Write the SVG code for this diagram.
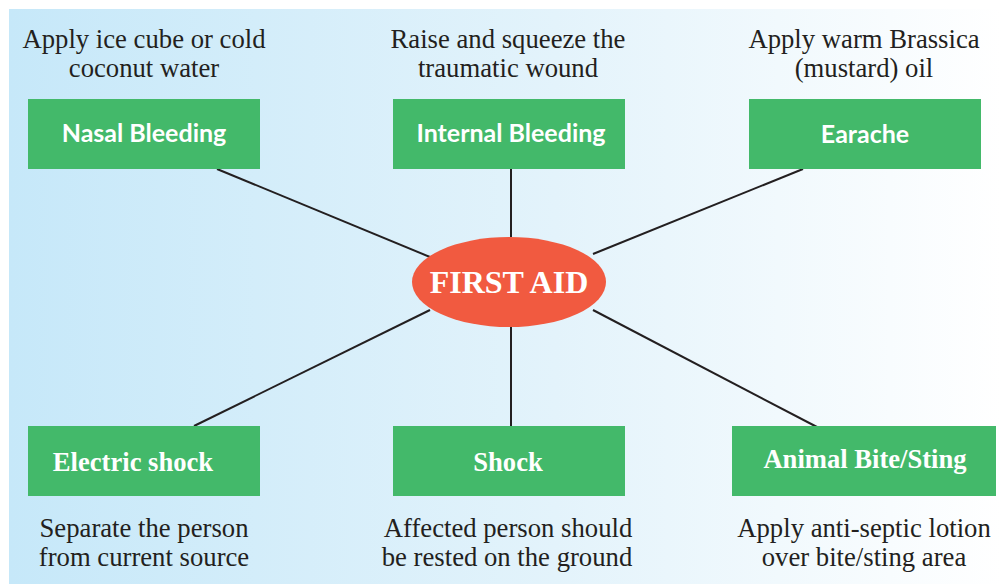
<svg xmlns="http://www.w3.org/2000/svg" width="1002" height="584" viewBox="0 0 1002 584">
  <defs>
    <linearGradient id="bg" x1="0" y1="0" x2="1" y2="0">
      <stop offset="0" stop-color="#c6e8f9"/>
      <stop offset="0.55" stop-color="#e3f3fb"/>
      <stop offset="1" stop-color="#ffffff"/>
    </linearGradient>
    <style>
      .box { fill: #43b96a; }
      .hub { fill: #f15a40; }
      .link { stroke: #231f20; stroke-width: 2; fill: none; }
      .note { font-family: "Liberation Serif", "Times New Roman", serif; font-size: 26.7px; fill: #231f20; text-anchor: middle; }
      .sans { font-family: Lato, "Open Sans", sans-serif; font-weight: bold; font-size: 25px; fill: #ffffff; text-anchor: middle; }
      .serif { font-family: "Liberation Serif", "Times New Roman", serif; font-weight: bold; font-size: 26.6px; fill: #ffffff; text-anchor: middle; }
      .title { font-family: "Liberation Serif", "Times New Roman", serif; font-weight: bold; font-size: 32px; fill: #ffffff; text-anchor: middle; }
    </style>
  </defs>

  <rect x="0" y="0" width="1002" height="584" fill="#ffffff"/>
  <rect x="9" y="9" width="993" height="575" fill="url(#bg)"/>

  <!-- spokes from the hub to each case -->
  <g id="connectors">
    <line class="link" x1="217" y1="169" x2="430" y2="257"/>
    <line class="link" x1="511" y1="168" x2="511" y2="237"/>
    <line class="link" x1="803" y1="169" x2="593" y2="254"/>
    <line class="link" x1="194" y1="426" x2="430" y2="310"/>
    <line class="link" x1="511" y1="327" x2="511" y2="426"/>
    <line class="link" x1="817" y1="427" x2="593" y2="310"/>
  </g>

  <g id="first-aid">
    <ellipse class="hub" cx="509" cy="282" rx="97" ry="45"/>
    <text class="title" x="509" y="293">FIRST AID</text>
  </g>

  <g id="nasal-bleeding">
    <text class="note" x="144" y="48">Apply ice cube or cold</text>
    <text class="note" x="144" y="77">coconut water</text>
    <rect class="box" x="28" y="99" width="232" height="70"/>
    <text class="sans" x="144" y="142">Nasal Bleeding</text>
  </g>

  <g id="internal-bleeding">
    <text class="note" x="508" y="48">Raise and squeeze the</text>
    <text class="note" x="508" y="77">traumatic wound</text>
    <rect class="box" x="393" y="99" width="232" height="70"/>
    <text class="sans" x="511" y="142">Internal Bleeding</text>
  </g>

  <g id="earache">
    <text class="note" x="864" y="48">Apply warm Brassica</text>
    <text class="note" x="864" y="77">(mustard) oil</text>
    <rect class="box" x="749" y="99" width="232" height="70"/>
    <text class="sans" x="865" y="143">Earache</text>
  </g>

  <g id="electric-shock">
    <rect class="box" x="28" y="426" width="232" height="70"/>
    <text class="serif" x="133" y="471">Electric shock</text>
    <text class="note" x="144" y="537">Separate the person</text>
    <text class="note" x="144" y="566">from current source</text>
  </g>

  <g id="shock">
    <rect class="box" x="393" y="426" width="232" height="70"/>
    <text class="serif" x="508" y="471">Shock</text>
    <text class="note" x="508" y="537">Affected person should</text>
    <text class="note" x="507" y="566">be rested on the ground</text>
  </g>

  <g id="animal-bite">
    <rect class="box" x="732" y="426" width="264" height="70"/>
    <text class="serif" x="865" y="468">Animal Bite/Sting</text>
    <text class="note" x="864" y="537">Apply anti-septic lotion</text>
    <text class="note" x="864" y="566">over bite/sting area</text>
  </g>
</svg>
